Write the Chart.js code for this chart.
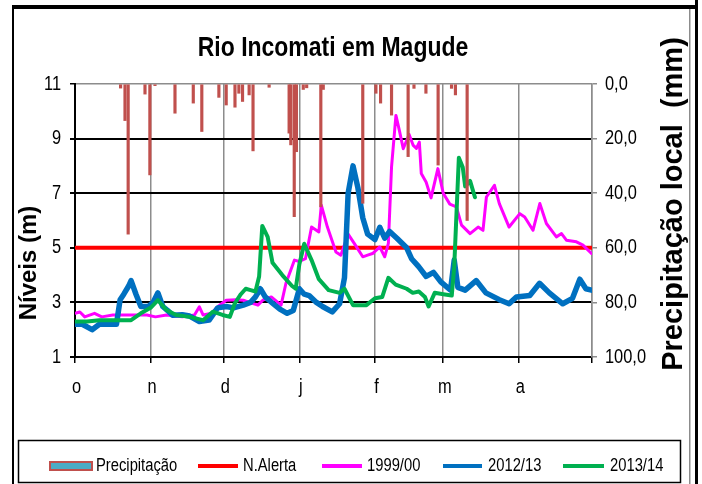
<!DOCTYPE html>
<html>
<head>
<meta charset="utf-8">
<script src="https://cdn.jsdelivr.net/npm/chart.js@4.4.1/dist/chart.umd.min.js"></script>
<style>
  html, body { margin: 0; padding: 0; background: #fff; }
  #wrap { width: 702px; height: 484px; }
</style>
</head>
<body>
<div id="wrap"><canvas id="chart" width="702" height="484"></canvas></div>
<script>
// x axis = days since 1 October, ticks at month starts
const monthDays = [0, 31, 61, 92, 123, 151, 182, 212];
const monthLabels = ["o", "n", "d", "j", "f", "m", "a", ""];
const levelTicks = [1, 3, 5, 7, 9, 11];

// N.Alerta
const alertDays = [0, 212];
const alertLevels = [5, 5];

// 1999/00
const days9900 = [0, 2, 4, 8, 11, 15.5, 22.5, 29.5, 33, 37.5, 44, 49, 51, 52.5, 56, 58.5, 62, 66, 69, 71.5, 75, 77, 80.5, 84.5, 86.5, 90, 92, 94.5, 97, 100, 101, 103.5, 107, 109, 112, 114.5, 118, 120, 122, 125, 127, 128.5, 129.8, 131.6, 133, 134.6, 137, 138.7, 140, 141.2, 142, 144, 146, 148.8, 151, 153.7, 156.4, 158.5, 162, 165.3, 167.3, 168.7, 172, 174, 178, 182.4, 184.4, 187.8, 190.6, 193.3, 197.4, 199.5, 201.5, 205.6, 208.3, 211.8];
const levels9900 = [2.6, 2.65, 2.47, 2.6, 2.47, 2.54, 2.54, 2.54, 2.47, 2.54, 2.47, 2.54, 2.84, 2.54, 2.6, 2.84, 3.08, 3.1, 3.08, 3.0, 2.9, 3.08, 3.2, 2.9, 3.7, 4.55, 4.5, 4.6, 5.76, 5.58, 6.56, 5.76, 4.85, 4.73, 5.5, 5.16, 4.67, 4.73, 4.79, 5.03, 4.67, 5.16, 7.96, 9.85, 9.3, 8.63, 9.15, 8.75, 8.64, 8.87, 7.72, 7.4, 6.83, 7.9, 7.0, 6.6, 6.5, 5.83, 5.52, 5.76, 5.64, 6.86, 7.29, 6.62, 5.76, 6.25, 6.13, 5.64, 6.62, 5.89, 5.4, 5.52, 5.28, 5.22, 5.1, 4.79];

// 2012/13
const days1213 = [0, 3, 7, 10, 14, 17, 18.5, 20, 22, 23, 25, 27, 30, 32, 34, 36, 38, 40, 44, 47, 51, 55, 58.5, 62, 65, 69, 72, 74, 76, 78, 81, 84, 87, 89.5, 92, 94, 96, 99, 101.5, 105.5, 108.5, 110.5, 112, 114, 116, 118, 120, 123, 125, 127, 129, 132, 136, 138, 140, 141, 144, 147, 150, 154, 155.5, 157, 160, 164.5, 168.5, 174, 178, 181, 186.5, 190.5, 194.5, 200, 204, 207, 209.5, 211.8];
const levels1213 = [2.2, 2.2, 2.0, 2.2, 2.2, 2.2, 3.1, 3.3, 3.6, 3.8, 3.3, 2.85, 2.85, 3.0, 3.35, 2.85, 2.7, 2.53, 2.55, 2.5, 2.3, 2.35, 2.8, 2.85, 2.8, 2.9, 3.0, 3.2, 3.5, 3.2, 2.97, 2.75, 2.6, 2.7, 3.5, 3.3, 3.25, 3.0, 2.85, 2.65, 2.95, 3.9, 7.0, 8.0, 7.2, 6.1, 5.5, 5.3, 5.75, 5.35, 5.6, 5.35, 5.0, 4.6, 4.4, 4.3, 3.95, 4.1, 3.75, 3.45, 4.55, 3.55, 3.45, 3.8, 3.35, 3.1, 2.95, 3.2, 3.25, 3.7, 3.35, 2.95, 3.15, 3.85, 3.5, 3.45];

// 2013/14
const days1314 = [0, 5, 10, 15, 20, 23, 27, 31, 34, 37.5, 41.5, 47, 52.5, 56.5, 60.5, 63.5, 65.5, 68, 70, 72, 74, 75.5, 76.8, 79, 81, 85, 89, 90.5, 92, 94, 97, 100, 104, 108.5, 110.5, 114, 119.5, 123, 126, 128.5, 131.5, 136, 138.5, 141, 143.5, 145, 147.5, 151, 154.5, 155.5, 156.5, 157.4, 159, 160, 162, 164];
const levels1314 = [2.3, 2.3, 2.35, 2.35, 2.35, 2.35, 2.6, 2.8, 3.08, 2.72, 2.54, 2.47, 2.35, 2.66, 2.54, 2.47, 2.96, 3.3, 3.5, 3.45, 3.4, 3.95, 5.8, 5.4, 4.45, 4.0, 3.6, 3.5, 4.4, 5.15, 4.55, 3.85, 3.45, 3.35, 3.5, 2.9, 2.9, 3.15, 3.2, 3.9, 3.65, 3.5, 3.35, 3.4, 3.2, 2.85, 3.35, 3.3, 3.25, 4.3, 6.4, 8.3, 7.95, 7.25, 7.45, 6.85];

// Precipitação local (mm)
const rainDays = [18.7, 20.5, 21.8, 28.7, 30.7, 32.8, 41, 48.5, 52, 59, 62, 65.6, 67.2, 68.7, 71.4, 73, 79.6, 87.8, 88.5, 89.9, 90.8, 93.6, 95, 100.8, 101.8, 118, 123.4, 125.3, 129.8, 136.6, 139, 143.9, 148.9, 154.4, 156, 160.8];
const rainMm = [1.5, 13.4, 55, 3.7, 33.3, 0.6, 10.7, 7, 17.4, 4.9, 7.7, 8.5, 3.4, 6.4, 4, 24.5, 1.2, 18, 22.3, 48.6, 24.8, 2, 1.4, 45, 2, 43.7, 3.4, 7, 11.4, 26.6, 1.6, 3.4, 29.7, 1.6, 4, 50];

const SANS = "'Liberation Sans', Arial, sans-serif";

function pts(xs, ys) {
  return xs.map((x, i) => ({ x, y: ys[i] }));
}

function lineSet(label, xs, ys, color, width, order) {
  return {
    type: "line", label, data: pts(xs, ys), yAxisID: "y",
    borderColor: color, backgroundColor: color, borderWidth: width,
    pointRadius: 0, tension: 0, borderJoinStyle: "round", borderCapStyle: "round",
    fill: false, order
  };
}

// Arial Narrow look-alike: Liberation Sans squeezed horizontally
function narrowText(ctx, text, x, y, size, bold, align) {
  ctx.save();
  ctx.font = (bold ? "bold " : "") + size + "px " + SANS;
  ctx.textAlign = align;
  ctx.textBaseline = "middle";
  ctx.fillStyle = "#000";
  ctx.translate(x, y);
  ctx.scale(0.82, 1);
  ctx.fillText(text, 0, 0);
  ctx.restore();
}

const legendItems = [
  { text: "Precipitação", x0: 50, x1: 92, tx: 96, box: true },
  { text: "N.Alerta", x0: 198, x1: 238, tx: 243, color: "#FF0000" },
  { text: "1999/00", x0: 322, x1: 362, tx: 367, color: "#FF00FF" },
  { text: "2012/13", x0: 443, x1: 482, tx: 488, color: "#0070C0" },
  { text: "2013/14", x0: 563, x1: 604, tx: 610, color: "#00B050" }
];

const decor = {
  id: "decor",
  beforeDraw(chart) {
    const ctx = chart.ctx;
    ctx.save();
    ctx.fillStyle = "#fff";
    ctx.fillRect(0, 0, chart.width, chart.height);
    ctx.restore();
  },
  afterDraw(chart) {
    const ctx = chart.ctx;
    const { x, y, y2 } = chart.scales;
    ctx.save();
    // frame of the surrounding table
    ctx.fillStyle = "#000";
    ctx.fillRect(12, 5, 686, 4);
    ctx.fillRect(12, 5, 2, 479);
    ctx.fillRect(695, 0, 3, 484);
    ctx.fillStyle = "#8C8C8C";
    ctx.fillRect(689, 9, 1.5, 475);

    // tick labels
    y.ticks.forEach(t => narrowText(ctx, String(t.value), 61, y.getPixelForValue(t.value), 20, false, "right"));
    y2.ticks.forEach(t => narrowText(ctx, t.value.toFixed(1).replace(".", ","), 605, y2.getPixelForValue(t.value), 20, false, "left"));
    x.ticks.forEach(t => {
      const lab = monthLabels[monthDays.indexOf(t.value)];
      if (lab) narrowText(ctx, lab, x.getPixelForValue(t.value) + 1.5, 387, 20, false, "center");
    });

    // titles
    narrowText(ctx, "Rio Incomati em Magude", 333, 48, 28, true, "center");

    ctx.fillStyle = "#000";
    ctx.textAlign = "center";
    ctx.textBaseline = "middle";
    ctx.save();
    ctx.translate(29, 263);
    ctx.rotate(-Math.PI / 2);
    ctx.font = "bold 24px " + SANS;
    ctx.fillText("Níveis (m)", 0, 0);
    ctx.restore();

    ctx.save();
    ctx.translate(674, 204);
    ctx.rotate(-Math.PI / 2);
    ctx.font = "bold 29px " + SANS;
    ctx.fillText("Precipitação local  (mm)", 0, 0);
    ctx.restore();

    // legend
    ctx.strokeStyle = "#000";
    ctx.lineWidth = 1.5;
    ctx.strokeRect(18.5, 440.5, 662, 42);
    const ly = 466;
    legendItems.forEach(it => {
      if (it.box) {
        ctx.fillStyle = "#4BACC6";
        ctx.fillRect(it.x0, ly - 4, it.x1 - it.x0, 8);
        ctx.strokeStyle = "#C0504D";
        ctx.lineWidth = 2;
        ctx.strokeRect(it.x0, ly - 4, it.x1 - it.x0, 8);
      } else {
        ctx.strokeStyle = it.color;
        ctx.lineWidth = 4;
        ctx.beginPath();
        ctx.moveTo(it.x0, ly);
        ctx.lineTo(it.x1, ly);
        ctx.stroke();
      }
      narrowText(ctx, it.text, it.tx, ly, 18, false, "left");
    });
    ctx.restore();
  }
};

new Chart(document.getElementById("chart"), {
  data: {
    datasets: [
      {
        type: "bar", label: "Precipitação", data: pts(rainDays, rainMm), yAxisID: "y2",
        backgroundColor: "#C0504D", borderWidth: 0, barThickness: 2.5, order: 0
      },
      lineSet("N.Alerta", alertDays, alertLevels, "#FF0000", 4, 4),
      lineSet("1999/00", days9900, levels9900, "#FF00FF", 3, 3),
      lineSet("2012/13", days1213, levels1213, "#0070C0", 5.5, 2),
      lineSet("2013/14", days1314, levels1314, "#00B050", 4, 1)
    ]
  },
  options: {
    responsive: false,
    animation: false,
    layout: { padding: { left: 0, right: 0, top: 84, bottom: 0 } },
    plugins: { legend: { display: false }, title: { display: false }, tooltip: { enabled: false } },
    scales: {
      x: {
        type: "linear", min: 0, max: 212, offset: false,
        afterBuildTicks: s => { s.ticks = monthDays.map(v => ({ value: v })); },
        afterFit: s => { s.height = 127; },
        ticks: { display: false, autoSkip: false, maxRotation: 0 },
        grid: { color: "#8C8C8C", lineWidth: 1.5, tickColor: "#000", tickLength: 6, offset: false },
        border: { color: "#000", width: 2 }
      },
      y: {
        position: "left", min: 1, max: 11,
        afterBuildTicks: s => { s.ticks = levelTicks.map(v => ({ value: v })); },
        afterFit: s => { s.width = 75; },
        ticks: { display: false },
        grid: {
          color: c => (c.tick && c.tick.value === 11 ? "#8C8C8C" : "#000"),
          lineWidth: c => (c.tick && c.tick.value === 11 ? 1.5 : 2),
          tickColor: "#000", tickLength: 5
        },
        border: { color: "#000", width: 2 }
      },
      y2: {
        position: "right", reverse: true, min: 0, max: 100,
        afterFit: s => { s.width = 110; },
        ticks: { display: false, stepSize: 20 },
        grid: { drawOnChartArea: false, color: "#8C8C8C", tickLength: 5, lineWidth: 1.5 },
        border: { color: "#8C8C8C", width: 1.5 }
      }
    }
  },
  plugins: [decor]
});
</script>
</body>
</html>
